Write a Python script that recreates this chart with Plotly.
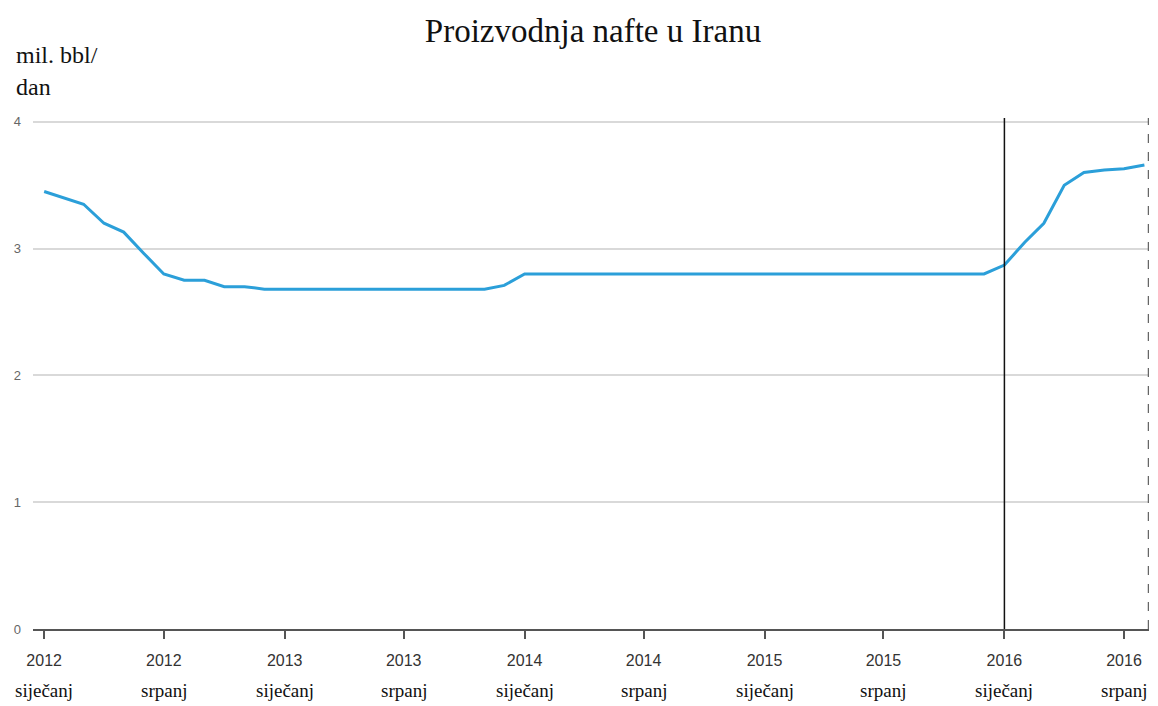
import plotly.graph_objects as go
import pandas as pd

# Monthly oil production in Iran, million barrels/day, Jan 2012 – Aug 2016
values = [
    3.45, 3.40, 3.35, 3.20, 3.13, 2.96, 2.80, 2.75, 2.75, 2.70, 2.70, 2.68,   # 2012
    2.68, 2.68, 2.68, 2.68, 2.68, 2.68, 2.68, 2.68, 2.68, 2.68, 2.68, 2.71,   # 2013
    2.80, 2.80, 2.80, 2.80, 2.80, 2.80, 2.80, 2.80, 2.80, 2.80, 2.80, 2.80,   # 2014
    2.80, 2.80, 2.80, 2.80, 2.80, 2.80, 2.80, 2.80, 2.80, 2.80, 2.80, 2.80,   # 2015
    2.87, 3.05, 3.20, 3.50, 3.60, 3.62, 3.63, 3.66,                           # 2016
]
months = pd.date_range("2012-01-01", periods=len(values), freq="MS")

tick_dates = ["2012-01-01", "2012-07-01", "2013-01-01", "2013-07-01", "2014-01-01",
              "2014-07-01", "2015-01-01", "2015-07-01", "2016-01-01", "2016-07-01"]
tick_years = ["2012", "2012", "2013", "2013", "2014", "2014", "2015", "2015", "2016", "2016"]
tick_months = ["siječanj", "srpanj", "siječanj", "srpanj", "siječanj",
               "srpanj", "siječanj", "srpanj", "siječanj", "srpanj"]
y_ticks = [0, 1, 2, 3, 4]

marker_date = "2016-01-01"
x_start, x_end = "2011-12-15", "2016-08-08"

SERIF = "Liberation Serif, Times New Roman, serif"

fig = go.Figure()
fig.add_trace(go.Scatter(
    x=months, y=values, mode="lines",
    line=dict(color="#2b9fd9", width=3),
    showlegend=False, hoverinfo="x+y",
))

fig.add_shape(type="line", xref="x", yref="y", x0=marker_date, x1=marker_date,
              y0=0, y1=4.03, line=dict(color="#111", width=1.5))
fig.add_shape(type="line", xref="x", yref="y", x0=x_end, x1=x_end,
              y0=0, y1=4.03, line=dict(color="#666", width=2.5, dash="dash"))

annotations = [
    dict(text="mil. bbl/", xref="paper", yref="paper", x=-0.017, y=1.0,
         xanchor="left", yanchor="middle", showarrow=False, yshift=63,
         font=dict(family=SERIF, size=24, color="#111")),
    dict(text="dan", xref="paper", yref="paper", x=-0.017, y=1.0,
         xanchor="left", yanchor="middle", showarrow=False, yshift=31,
         font=dict(family=SERIF, size=24, color="#111")),
]
for d, m in zip(tick_dates, tick_months):
    annotations.append(dict(
        text=m, xref="x", yref="paper", x=d, y=0, xanchor="center", yanchor="middle",
        yshift=-61, showarrow=False,
        font=dict(family=SERIF, size=19, color="#111"),
    ))

fig.update_layout(
    width=1150, height=698,
    margin=dict(l=25, r=9, t=110, b=77, autoexpand=False),
    plot_bgcolor="white", paper_bgcolor="white",
    title=dict(text="Proizvodnja nafte u Iranu", x=0.5087, xanchor="center",
               y=0.968, yanchor="middle",
               font=dict(family=SERIF, size=33, color="#111")),
    xaxis=dict(
        range=[x_start, x_end], tickmode="array", tickvals=tick_dates, ticktext=tick_years,
        showgrid=False, showline=True, linecolor="#555", linewidth=2,
        ticks="outside", ticklen=8, tickcolor="#555", tickwidth=1.5,
        tickfont=dict(family="Liberation Sans", size=16, color="#333"),
        ticklabelstandoff=8, zeroline=False, automargin=False,
    ),
    yaxis=dict(
        range=[0, 4.03], tickmode="array", tickvals=y_ticks,
        showgrid=True, gridcolor="#d9d9d9", gridwidth=2,
        zeroline=False, showline=False, ticks="",
        tickfont=dict(family="Liberation Sans", size=13, color="#666"),
        ticklabelstandoff=11, automargin=False,
    ),
    annotations=annotations,
)

fig.write_html("out.html")
